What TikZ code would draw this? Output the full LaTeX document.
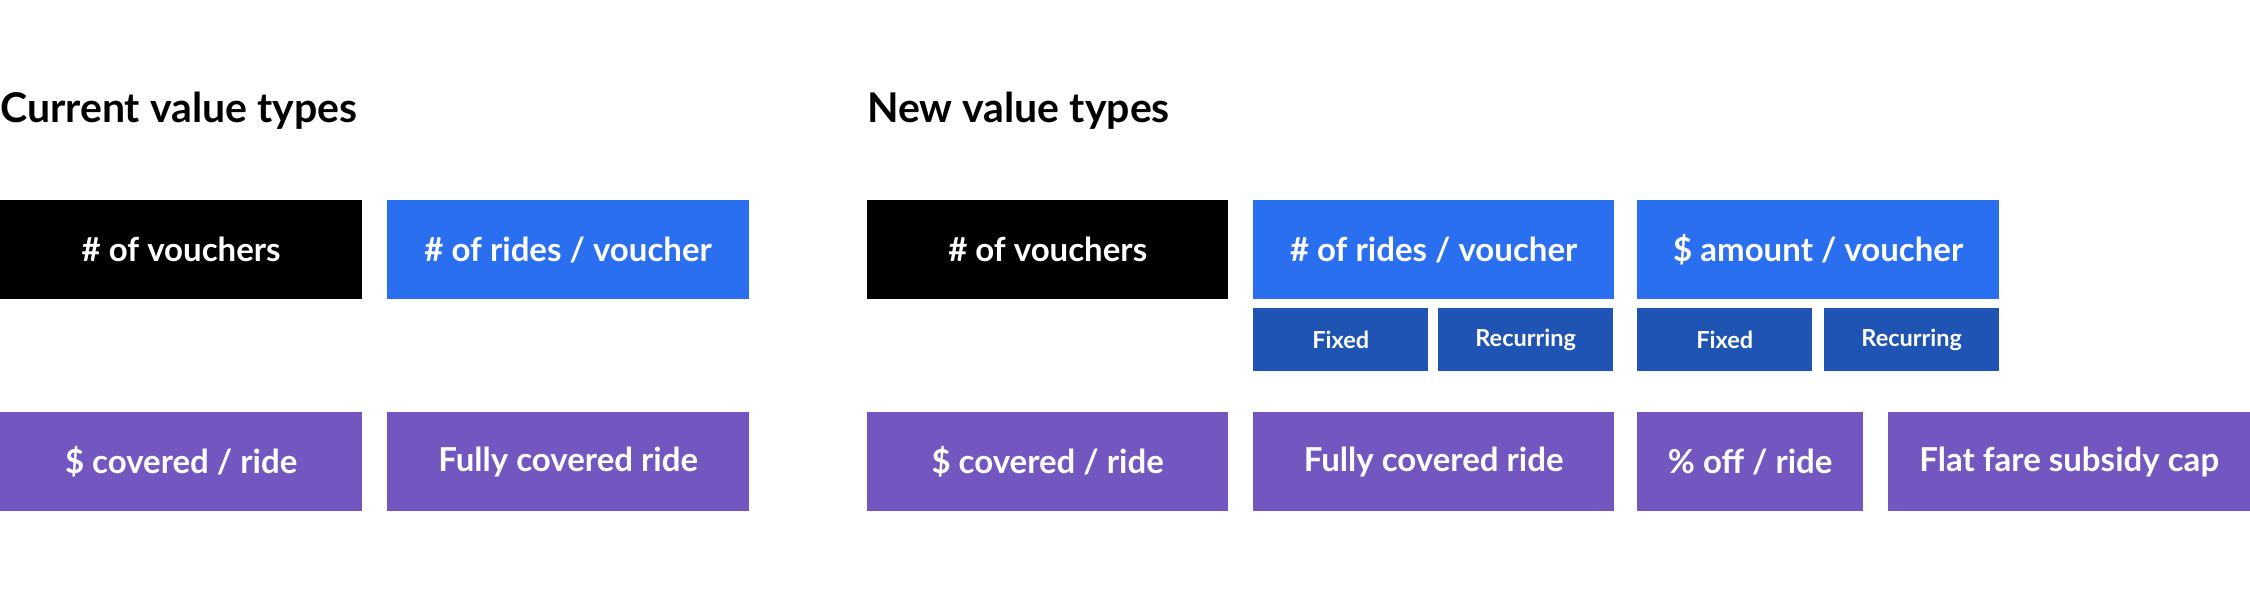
\documentclass[tikz,border=0pt]{standalone}
\usepackage{fontspec}
\setmainfont{Lato}
\definecolor{cblack}{HTML}{000000}
\definecolor{cblue}{HTML}{2A6FEF}
\definecolor{cdblue}{HTML}{1F54B5}
\definecolor{cpurple}{HTML}{7356BF}
\tikzset{
  vbox/.style={rectangle, anchor=north west, inner sep=0pt, text=white,
    font=\fontsize{33}{38}\selectfont\bfseries, minimum height=99pt},
  subbox/.style={rectangle, anchor=north west, inner sep=0pt, text=white, fill=cdblue,
    font=\fontsize{23.5}{28}\selectfont\bfseries, minimum width=175pt, minimum height=63pt},
  heading/.style={anchor=base west, inner sep=0pt, font=\fontsize{41}{46}\selectfont\bfseries}
}
\begin{document}
\begin{tikzpicture}[x=1pt,y=-1pt]
\useasboundingbox (0,0) rectangle (2250,596);
% headings
\node[heading] (h1) at (0,123) {Current value types};
\node[heading] (h2) at (867,123) {New value types};
% current row 1
\node[vbox, fill=cblack, minimum width=362pt] (c1) at (0,200) {\# of vouchers};
\node[vbox, fill=cblue, minimum width=362pt] (c2) at (387,200) {\# of rides / voucher};
% current row 3
\node[vbox, fill=cpurple, minimum width=362pt] (c3) at (0,412) {\$ covered / ride};
\node[vbox, fill=cpurple, minimum width=362pt] (c4) at (387,412) {Fully covered ride};
% new row 1
\node[vbox, fill=cblack, minimum width=361pt] (n1) at (867,200) {\# of vouchers};
\node[vbox, fill=cblue, minimum width=361pt] (n2) at (1253,200) {\# of rides / voucher};
\node[vbox, fill=cblue, minimum width=362pt] (n3) at (1637,200) {\$ amount / voucher};
% sub boxes
\node[subbox] (s1) at (1253,308) {Fixed};
\node[subbox] (s2) at (1438,308) {Recurring};
\node[subbox] (s3) at (1637,308) {Fixed};
\node[subbox] (s4) at (1824,308) {Recurring};
% new row 3
\node[vbox, fill=cpurple, minimum width=361pt] (n4) at (867,412) {\$ covered / ride};
\node[vbox, fill=cpurple, minimum width=361pt] (n5) at (1253,412) {Fully covered ride};
\node[vbox, fill=cpurple, minimum width=226pt] (n6) at (1637,412) {\% off / ride};
\node[vbox, fill=cpurple, minimum width=362pt] (n7) at (1888,412) {Flat fare subsidy cap};
\end{tikzpicture}
\end{document}
